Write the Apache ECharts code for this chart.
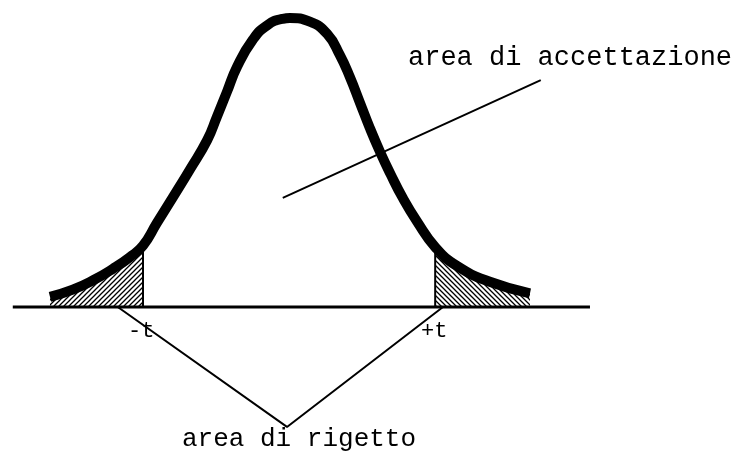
<!DOCTYPE html>
<html>
<head>
<meta charset="utf-8" />
<title>area di accettazione / area di rigetto</title>
<script src="https://cdn.jsdelivr.net/npm/echarts@6/dist/echarts.min.js"></script>
<style>
html, body { margin: 0; padding: 0; background: #fff; }
#main { width: 735px; height: 464px; }
</style>
</head>
<body>
<div id="main"></div>
<script>
// curva: x in unita' di t, y = densita'
var curveX = [-4.0, -3.62, -3.28, -2.95, -2.67, -2.45, -2.22, -1.95, -1.67, -1.38, -1.22, -1.05, -0.88,
              -0.62, -0.38, -0.12, 0, 0.33, 0.62, 0.83, 1.0, 1.17, 1.33, 1.5, 1.67, 1.88, 2.12, 2.42,
              2.78, 3.33, 4.0];
var curveY = [0.014, 0.024, 0.037, 0.053, 0.069, 0.085, 0.116, 0.152, 0.190, 0.231, 0.263, 0.298, 0.333,
              0.370, 0.390, 0.399, 0.400, 0.395, 0.378, 0.349, 0.318, 0.282, 0.248, 0.215, 0.185, 0.151, 0.118, 0.083,
              0.057, 0.035, 0.019];
var tLeft = -2.45;
var tRight = 2.42;
var baseX = [-4.62, 5.0];
// linee di richiamo delle etichette
var acceptLine = [[-0.12, 0.151], [4.18, 0.314]];
var rejectLine = [[-2.87, 0], [-0.05, -0.166], [2.55, 0]];

var curve = curveX.map(function (x, i) { return [x, curveY[i]]; });
var leftTail = curve.filter(function (p) { return p[0] <= tLeft; });
var rightTail = curve.filter(function (p) { return p[0] >= tRight; });
var yAt = function (t) { return curveY[curveX.indexOf(t)]; };

// tratteggio
function hatch(dir) {
  var s = 5;
  var c = document.createElement('canvas');
  c.width = s; c.height = s;
  var g = c.getContext('2d');
  g.strokeStyle = '#000';
  g.lineWidth = 1.3;
  g.beginPath();
  if (dir > 0) {
    g.moveTo(0, s); g.lineTo(s, 0);
    g.moveTo(-s / 2, s / 2); g.lineTo(s / 2, -s / 2);
    g.moveTo(s / 2, s * 1.5); g.lineTo(s * 1.5, s / 2);
  } else {
    g.moveTo(0, 0); g.lineTo(s, s);
    g.moveTo(-s / 2, s / 2); g.lineTo(s / 2, s * 1.5);
    g.moveTo(s / 2, -s / 2); g.lineTo(s * 1.5, s / 2);
  }
  g.stroke();
  return c;
}

var black = '#000';
var chart = echarts.init(document.getElementById('main'));
var smooth = 0.5;

chart.setOption({
  animation: false,
  grid: { left: 0, right: 0, top: 0, bottom: 0 },
  xAxis: { type: 'value', min: -4.833, max: 7.417, show: false },
  yAxis: { type: 'value', min: -0.2173, max: 0.425, show: false },
  series: [
    {
      type: 'line', data: leftTail, smooth: smooth, symbol: 'none',
      lineStyle: { width: 0 },
      areaStyle: { color: { image: hatch(1), repeat: 'repeat' }, opacity: 1 }, z: 1
    },
    {
      type: 'line', data: rightTail, smooth: smooth, symbol: 'none',
      lineStyle: { width: 0 },
      areaStyle: { color: { image: hatch(-1), repeat: 'repeat' }, opacity: 1 }, z: 1
    },
    {
      type: 'line', data: [[tLeft, 0], [tLeft, yAt(tLeft)]], symbol: 'none',
      lineStyle: { color: black, width: 2 }, z: 2
    },
    {
      type: 'line', data: [[tRight, 0], [tRight, yAt(tRight)]], symbol: 'none',
      lineStyle: { color: black, width: 2 }, z: 2
    },
    {
      type: 'line', data: curve, smooth: smooth, symbol: 'none',
      lineStyle: { color: black, width: 10, cap: 'butt', join: 'round' }, z: 3
    },
    {
      type: 'line', data: [[baseX[0], 0], [baseX[1], 0]], symbol: 'none',
      lineStyle: { color: black, width: 3 }, z: 4
    },
    {
      type: 'line', data: acceptLine, symbol: 'none',
      lineStyle: { color: black, width: 2 }, z: 4
    },
    {
      type: 'line', data: rejectLine, symbol: 'none',
      lineStyle: { color: black, width: 2 }, z: 4
    }
  ],
  graphic: [
    { type: 'text', z: 10, style: { text: 'area di accettazione', x: 408, y: 58, textVerticalAlign: 'middle', font: '27px "Liberation Mono"', fill: black } },
    { type: 'text', z: 10, style: { text: 'area di rigetto', x: 182, y: 439, textVerticalAlign: 'middle', font: '26px "Liberation Mono"', fill: black } },
    { type: 'text', z: 10, style: { text: '-t', x: 128, y: 331, textVerticalAlign: 'middle', font: '22px "Liberation Mono"', fill: black } },
    { type: 'text', z: 10, style: { text: '+t', x: 421, y: 331, textVerticalAlign: 'middle', font: '22px "Liberation Mono"', fill: black } }
  ]
});
</script>
</body>
</html>
